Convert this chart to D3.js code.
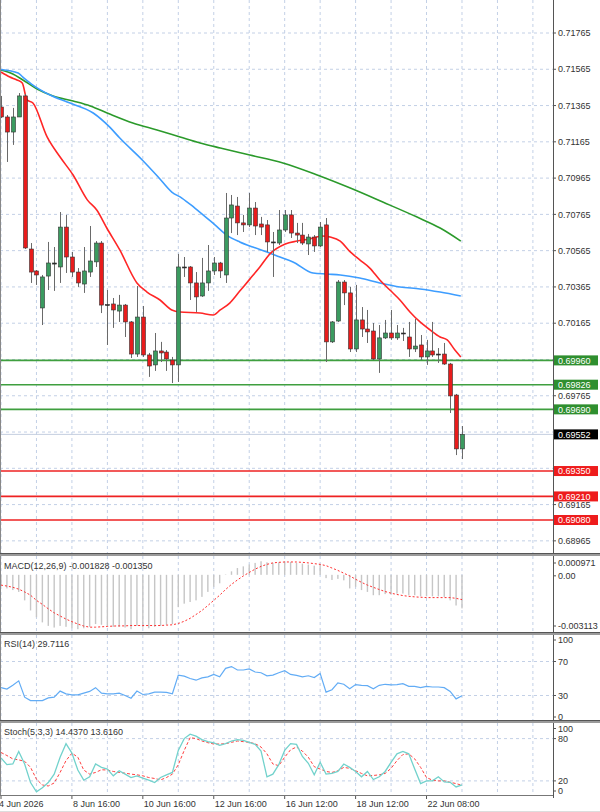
<!DOCTYPE html>
<html>
<head>
<meta charset="utf-8">
<script src="https://cdn.jsdelivr.net/npm/d3@7"></script>
<style>
  body { margin: 0; background: #fff; }
  svg { display: block; font-family: "Liberation Sans", Arial, sans-serif; }
</style>
</head>
<body>
<svg id="chart" width="600" height="812"></svg>
<script>
// ---- candles (4H)
var opens = [0.71357,0.71302,0.71219,0.71302,0.71418,0.70574,0.70453,0.70249,0.70425,0.70491,
  0.70475,0.70695,0.70530,0.70447,0.70381,0.70447,0.70503,0.70607,0.70268,0.70271,
  0.70232,0.70265,0.70172,0.69995,0.70199,0.69990,0.69935,0.70012,0.70006,0.69962,
  0.69935,0.70475,0.70475,0.70387,0.70315,0.70387,0.70453,0.70497,0.70431,0.70745,
  0.70811,0.70718,0.70707,0.70800,0.70712,0.70707,0.70613,0.70607,0.70679,0.70762,
  0.70662,0.70651,0.70602,0.70640,0.70591,0.70707,0.70062,0.70177,0.70392,0.70332,
  0.70023,0.70183,0.70133,0.70122,0.69968,0.70084,0.70111,0.70084,0.70111,0.70089,
  0.70023,0.70045,0.69979,0.70012,0.69995,0.69995,0.69940,0.69769,0.69472];
var highs = [0.71418,0.71313,0.71352,0.71434,0.71429,0.70607,0.70458,0.70431,0.70613,0.70585,
  0.70778,0.70762,0.70558,0.70469,0.70585,0.70701,0.70618,0.70618,0.70348,0.70304,
  0.70321,0.70271,0.70177,0.70370,0.70260,0.70001,0.70111,0.70062,0.70017,0.69979,
  0.70547,0.70530,0.70480,0.70447,0.70525,0.70596,0.70530,0.70503,0.70883,0.70872,
  0.70861,0.70762,0.70883,0.70833,0.70751,0.70734,0.70668,0.70789,0.70789,0.70789,
  0.70718,0.70718,0.70657,0.70651,0.70723,0.70745,0.70177,0.70403,0.70403,0.70365,
  0.70376,0.70254,0.70238,0.70166,0.70155,0.70183,0.70238,0.70155,0.70139,0.70172,
  0.70188,0.70100,0.70073,0.70172,0.70028,0.70056,0.69946,0.69775,0.69598];
var lows = [0.71296,0.71054,0.71148,0.71302,0.70574,0.70387,0.70376,0.70155,0.70348,0.70343,
  0.70387,0.70442,0.70420,0.70365,0.70332,0.70420,0.70475,0.70221,0.70045,0.70139,
  0.70172,0.70089,0.69973,0.69979,0.69979,0.69869,0.69902,0.69951,0.69902,0.69835,
  0.69841,0.70420,0.70293,0.70227,0.70310,0.70343,0.70431,0.70414,0.70387,0.70662,
  0.70651,0.70668,0.70695,0.70651,0.70651,0.70558,0.70420,0.70596,0.70668,0.70635,
  0.70607,0.70596,0.70541,0.70558,0.70585,0.69951,0.70056,0.70172,0.70265,0.70006,
  0.70006,0.70089,0.70056,0.69962,0.69891,0.70078,0.70073,0.70073,0.70067,0.69979,
  0.70006,0.69962,0.69935,0.69979,0.69946,0.69935,0.69670,0.69438,0.69416];
var closes = [0.71302,0.71219,0.71302,0.71418,0.70580,0.70447,0.70431,0.70420,0.70497,0.70497,
  0.70695,0.70530,0.70447,0.70387,0.70453,0.70508,0.70607,0.70265,0.70265,0.70238,
  0.70265,0.70172,0.69995,0.70199,0.69990,0.69929,0.70012,0.70001,0.69968,0.69935,
  0.70475,0.70472,0.70387,0.70310,0.70387,0.70453,0.70497,0.70453,0.70745,0.70817,
  0.70718,0.70707,0.70800,0.70701,0.70695,0.70613,0.70610,0.70679,0.70762,0.70662,
  0.70651,0.70607,0.70640,0.70591,0.70695,0.70062,0.70172,0.70392,0.70332,0.70023,
  0.70183,0.70133,0.70117,0.69968,0.70084,0.70111,0.70084,0.70111,0.70108,0.70023,
  0.70039,0.69979,0.70012,0.69990,0.69993,0.69940,0.69764,0.69472,0.69552];

// ---- moving averages (bar index, price)
var maRedIdx = [0,1.5,2.7,3.6,4.4,5.4,7.8,10,12.2,14.6,16.2,17.9,20.1,23,24.7,26.9,28.9,30.3,33.7,35.9,37.1,38.7,40.4,42.1,43.8,45.5,48.1,50.1,52.3,54.3,55.7,57.4,59.1,60.7,62.4,64.1,65.8,67.5,69.2,70.9,72.6,74.3,75.5,76.8,77.8];
var maRedVal = [0.71550,0.71522,0.71506,0.71489,0.71396,0.71379,0.71192,0.71081,0.70982,0.70845,0.70789,0.70690,0.70569,0.70387,0.70337,0.70293,0.70238,0.70227,0.70221,0.70210,0.70238,0.70276,0.70342,0.70408,0.70475,0.70547,0.70602,0.70618,0.70630,0.70646,0.70640,0.70618,0.70558,0.70514,0.70469,0.70403,0.70348,0.70293,0.70227,0.70172,0.70128,0.70089,0.70073,0.70017,0.69979];
var maBlueIdx = [0,2.9,3.7,5.4,8.3,11.2,15.6,18.4,20.1,23.9,26.6,28.9,30.6,32.8,36.2,38.2,40.4,42.6,45,47.2,49.4,52.8,55.2,57.4,60.7,64.1,67.5,70.9,74.3,77.8];
var maBlueVal = [0.71564,0.71544,0.71522,0.71478,0.71423,0.71384,0.71324,0.71246,0.71186,0.71065,0.70971,0.70888,0.70855,0.70800,0.70707,0.70651,0.70613,0.70585,0.70558,0.70530,0.70503,0.70442,0.70436,0.70431,0.70414,0.70387,0.70365,0.70354,0.70337,0.70315];
var maGreenIdx = [0,2,3.7,6.1,8.8,12.2,15.1,18.4,22.3,26.4,30.3,33.7,37.1,42.1,47.7,53.5,59.1,64.6,70.4,74.3,77.8];
var maGreenVal = [0.71561,0.71539,0.71506,0.71456,0.71418,0.71390,0.71363,0.71318,0.71269,0.71230,0.71192,0.71159,0.71131,0.71092,0.71048,0.70982,0.70910,0.70833,0.70750,0.70690,0.70618];

// ---- horizontal levels
var supportLevels = [0.69960, 0.69826, 0.69690];
var resistLevels = [0.69350, 0.69210, 0.69080];
var lastPrice = 0.69552;
var priceTicks = [0.71965,0.71765,0.71565,0.71365,0.71165,0.70965,0.70765,0.70565,0.70365,0.70165,
  0.69965,0.69765,0.69565,0.69365,0.69165,0.68965,0.68765];

// ---- MACD(12,26,9)
var macdMain = [-0.00056,-0.00074,-0.00083,-0.00093,-0.00139,-0.00194,-0.00231,-0.00259,-0.00278,-0.00287,
  -0.00278,-0.00283,-0.00291,-0.00296,-0.00291,-0.00283,-0.00268,-0.00272,-0.00278,-0.00283,
  -0.00283,-0.00287,-0.00296,-0.00278,-0.00287,-0.00291,-0.00283,-0.00278,-0.00272,-0.00268,
  -0.00176,-0.00157,-0.00148,-0.00139,-0.00120,-0.00093,-0.00065,-0.00046,0.00002,0.00019,
  0.00037,0.00046,0.00056,0.00065,0.00074,0.00068,0.00065,0.00068,0.00074,0.00070,
  0.00065,0.00061,0.00056,0.00050,0.00056,-0.00018,-0.00028,-0.00022,-0.00030,-0.00074,
  -0.00065,-0.00083,-0.00093,-0.00111,-0.00111,-0.00105,-0.00105,-0.00102,-0.00102,-0.00111,
  -0.00111,-0.00117,-0.00117,-0.00117,-0.00117,-0.00120,-0.00139,-0.00167,-0.001828];
var macdSignal = [-0.00056,-0.00061,-0.00068,-0.00078,-0.00093,-0.00111,-0.00139,-0.00161,-0.00185,-0.00207,
  -0.00224,-0.00241,-0.00255,-0.00268,-0.00279,-0.00285,-0.00285,-0.00283,-0.00281,-0.00279,
  -0.00278,-0.00278,-0.00276,-0.00276,-0.00276,-0.00276,-0.00276,-0.00276,-0.00274,-0.00272,
  -0.00265,-0.00253,-0.00237,-0.00216,-0.00194,-0.00167,-0.00139,-0.00111,-0.00080,-0.00052,
  -0.00028,-0.00006,0.00013,0.00031,0.00046,0.00057,0.00065,0.00068,0.00070,0.00070,
  0.00070,0.00068,0.00065,0.00061,0.00057,0.00050,0.00037,0.00024,0.00009,-0.00006,
  -0.00024,-0.00041,-0.00056,-0.00068,-0.00080,-0.00091,-0.00100,-0.00107,-0.00113,-0.00117,
  -0.00120,-0.00122,-0.00124,-0.00124,-0.00124,-0.00124,-0.00124,-0.00128,-0.001350];

// ---- RSI(14)
var rsiVals = [39.2,37.6,42,47.2,28,24,24,24,27.2,28,
  35.2,32,30.8,30.8,32.8,34.8,39.2,32.8,32,32,
  32.8,30,26.8,35.2,31.2,32,34,34,33.6,32,
  54,52.8,50,48,50.8,52,54.8,52,62,64,
  60,60,61.2,57.6,56.8,53.2,54,56.8,59.2,54.8,
  53.6,52,53.2,51.2,56,34,36.8,44.8,43.2,38,
  42.8,42,41.6,38,42,43.2,42.4,42.8,44,40.8,
  40.8,39.2,40.8,40,40,39.2,34.8,26,29.71];

// ---- Stochastic(5,3,3)
var stochK = [52.6,43,44,61.8,44,17.6,4.6,10.4,17.6,29.6,
  53.6,72.8,59.4,35.4,21,25.8,44,39.2,36.8,27.2,
  34.4,29.6,24.8,27.2,23.8,21,17.6,24.8,28.6,32,
  63.2,80,86.2,83.4,78.6,75.7,73.8,70.4,72.8,76.6,
  78.6,77.6,74.7,71.8,62.2,25.8,29.6,43,63.2,72.8,
  71.8,54.6,45,28.6,46.4,29.6,30.6,33.4,44,39.2,
  33.4,25.8,33.4,21.9,25.8,33.4,46.4,58.4,61.8,58.4,
  36.8,16.2,20,20,25.8,18.6,18,11.4,14.44];
var stochD = [60.3,56,51.2,49.8,47.8,39.2,22.4,14.2,12.8,17.1,
  32,48.8,59.4,53.6,35.4,29.6,32,35.8,35.4,33.4,
  32,31,29.6,28.6,27.2,24.8,23.4,21.4,24.8,29.6,
  43,63.2,81.4,80,76.6,74.2,72.3,72.3,72.8,74.7,
  76.6,75.7,74.7,72.8,68,58.4,44,41.6,53.6,64.2,
  68,62.2,53.6,40.2,36.8,33.4,32,34.4,39.2,37.8,
  34.4,30.6,27.2,27.7,28.6,30.6,37.8,48.8,57.4,58.4,
  51.2,39.2,24.8,21,20,20,18,16.2,13.62];

// ---- time axis
var timeLabelIdx = [0, 12, 24, 36, 48, 60, 72];
var timeLabels = ["4 Jun 2026", "8 Jun 16:00", "10 Jun 16:00", "12 Jun 16:00", "16 Jun 12:00", "18 Jun 12:00", "22 Jun 08:00"];

// ================= drawing =================
var svg = d3.select('#chart');
var W = 553;
var gridColor = '#c3d0e6';
var textColor = '#333';

var x = d3.scaleLinear().domain([0, 93.4]).range([1, W]);
var yP = d3.scaleLinear().domain([0.69080, 0.71765]).range([520, 33]);
var yM = d3.scaleLinear().domain([-0.003113, 0.000971]).range([632, 557]);
var yR = d3.scaleLinear().domain([0, 100]).range([721, 636]);
var yS = d3.scaleLinear().domain([0, 100]).range([795, 724.5]);

var panels = [
	{id: 'main', top: 0, bottom: 553},
	{id: 'macd', top: 556, bottom: 632},
	{id: 'rsi', top: 635, bottom: 720},
	{id: 'stoch', top: 723, bottom: 795}
];

var defs = svg.append('defs');
panels.forEach(function(p){
	defs.append('clipPath').attr('id', 'clip-' + p.id)
		.append('rect').attr('x', 0).attr('y', p.top).attr('width', W).attr('height', p.bottom - p.top);
});

// vertical grid in every panel
var gridIdx = d3.range(0, 94, 6);
panels.forEach(function(p){
	svg.append('g').selectAll('line').data(gridIdx).enter().append('line')
		.attr('x1', function(d){ return x(d); }).attr('x2', function(d){ return x(d); })
		.attr('y1', p.top).attr('y2', p.bottom)
		.style('stroke', gridColor).style('stroke-dasharray', '3,3').style('stroke-width', 1);
});

// ---------- main panel ----------
var main = svg.append('g').attr('clip-path', 'url(#clip-main)');

main.selectAll('line.hgrid').data(priceTicks).enter().append('line')
	.attr('class', 'hgrid')
	.attr('x1', 0).attr('x2', W)
	.attr('y1', function(d){ return yP(d); }).attr('y2', function(d){ return yP(d); })
	.style('stroke', gridColor).style('stroke-dasharray', '3,3');

// last price line
main.append('line').attr('x1', 0).attr('x2', W)
	.attr('y1', yP(lastPrice)).attr('y2', yP(lastPrice))
	.style('stroke', '#c4cfe0').style('stroke-width', 1);

// moving averages
function maLine(idx, vals, color){
	var pts = idx.map(function(d, i){ return [d, vals[i]]; });
	main.append('path').datum(pts)
		.attr('d', d3.line().x(function(d){ return x(d[0]); }).y(function(d){ return yP(d[1]); }).curve(d3.curveMonotoneX))
		.style('fill', 'none').style('stroke', color).style('stroke-width', 1.6);
}
maLine(maGreenIdx, maGreenVal, '#2b9a2b');
maLine(maBlueIdx, maBlueVal, '#3d9dff');
maLine(maRedIdx, maRedVal, '#ff2626');

// level lines
main.selectAll('line.sup').data(supportLevels).enter().append('line')
	.attr('x1', 0).attr('x2', W)
	.attr('y1', function(d){ return yP(d); }).attr('y2', function(d){ return yP(d); })
	.style('stroke', '#3f9f3f').style('stroke-width', 1.6);
main.selectAll('line.res').data(resistLevels).enter().append('line')
	.attr('x1', 0).attr('x2', W)
	.attr('y1', function(d){ return yP(d); }).attr('y2', function(d){ return yP(d); })
	.style('stroke', '#ee2222').style('stroke-width', 1.6);

// candles
var candles = opens.map(function(o, i){
	return {i: i, o: o, h: highs[i], l: lows[i], c: closes[i]};
});
var cg = main.selectAll('g.candle').data(candles).enter().append('g');
cg.append('line')
	.attr('x1', function(d){ return Math.round(x(d.i)) + 0.5; })
	.attr('x2', function(d){ return Math.round(x(d.i)) + 0.5; })
	.attr('y1', function(d){ return yP(d.h); })
	.attr('y2', function(d){ return yP(d.l); })
	.style('stroke', '#6a6a6a').style('stroke-width', 1);
cg.append('rect')
	.attr('x', function(d){ return Math.round(x(d.i)) - 1.5; })
	.attr('width', 4)
	.attr('y', function(d){ return yP(Math.max(d.o, d.c)); })
	.attr('height', function(d){ return Math.max(1, Math.abs(yP(d.o) - yP(d.c))); })
	.style('fill', function(d){
		if(Math.abs(yP(d.o) - yP(d.c)) < 1.2) return '#222';
		return d.c >= d.o ? '#3b9b60' : '#e81c1c';
	})
	.style('stroke', '#333')
	.style('stroke-width', 0.6);

// ---------- MACD ----------
var macd = svg.append('g').attr('clip-path', 'url(#clip-macd)');
macd.selectAll('rect').data(macdMain).enter().append('rect')
	.attr('x', function(d, i){ return x(i) - 0.7; })
	.attr('width', 1.4)
	.attr('y', function(d){ return Math.min(yM(d), yM(0)); })
	.attr('height', function(d){ return Math.abs(yM(d) - yM(0)); })
	.style('fill', '#c6c6c6');
macd.append('path').datum(macdSignal)
	.attr('d', d3.line().x(function(d, i){ return x(i); }).y(function(d){ return yM(d); }))
	.style('fill', 'none').style('stroke', '#ff3030').style('stroke-width', 1).style('stroke-dasharray', '2,2');

// ---------- RSI ----------
var rsi = svg.append('g').attr('clip-path', 'url(#clip-rsi)');
rsi.selectAll('line').data([70, 30]).enter().append('line')
	.attr('x1', 0).attr('x2', W)
	.attr('y1', function(d){ return yR(d); }).attr('y2', function(d){ return yR(d); })
	.style('stroke', gridColor).style('stroke-dasharray', '3,3');
rsi.append('path').datum(rsiVals)
	.attr('d', d3.line().x(function(d, i){ return x(i); }).y(function(d){ return yR(d); }))
	.style('fill', 'none').style('stroke', '#62acf5').style('stroke-width', 1.2);

// ---------- Stochastic ----------
var sto = svg.append('g').attr('clip-path', 'url(#clip-stoch)');
sto.selectAll('line').data([80, 20]).enter().append('line')
	.attr('x1', 0).attr('x2', W)
	.attr('y1', function(d){ return yS(d); }).attr('y2', function(d){ return yS(d); })
	.style('stroke', gridColor).style('stroke-dasharray', '3,3');
sto.append('path').datum(stochD)
	.attr('d', d3.line().x(function(d, i){ return x(i); }).y(function(d){ return yS(d); }))
	.style('fill', 'none').style('stroke', '#ff4040').style('stroke-width', 1).style('stroke-dasharray', '3,2');
sto.append('path').datum(stochK)
	.attr('d', d3.line().x(function(d, i){ return x(i); }).y(function(d){ return yS(d); }))
	.style('fill', 'none').style('stroke', '#72d2cc').style('stroke-width', 1.3);

// ---------- frames & separators ----------
svg.append('line').attr('x1', W + 0.5).attr('x2', W + 0.5).attr('y1', 0).attr('y2', 798)
	.style('stroke', '#555').style('stroke-width', 1);
svg.append('line').attr('x1', 0.5).attr('x2', 0.5).attr('y1', 0).attr('y2', 795)
	.style('stroke', '#888').style('stroke-width', 1);
[553, 632, 720].forEach(function(yy){
	svg.append('rect').attr('x', 0).attr('y', yy).attr('width', 600).attr('height', 3).style('fill', '#9a9a9a');
	svg.append('line').attr('x1', 0).attr('x2', 600).attr('y1', yy + 0.5).attr('y2', yy + 0.5).style('stroke', '#555');
});
svg.append('line').attr('x1', 0).attr('x2', W).attr('y1', 795.5).attr('y2', 795.5).style('stroke', '#777');
svg.append('line').attr('x1', 0).attr('x2', 600).attr('y1', 811.5).attr('y2', 811.5).style('stroke', '#ddd');

// ---------- right axis ----------
var axisG = svg.append('g');
var fmt5 = d3.format('.5f');
var boxed = supportLevels.concat(resistLevels, [lastPrice]);
function rightLabel(yy, txt){
	axisG.append('line').attr('x1', W).attr('x2', W + 3).attr('y1', yy).attr('y2', yy).style('stroke', '#555');
	axisG.append('text').attr('x', W + 5).attr('y', yy).attr('dy', '0.35em')
		.style('font-size', '9px').style('fill', textColor).text(txt);
}
priceTicks.forEach(function(d){
	var yy = yP(d);
	// labels sitting right under a level box are hidden in the original
	var covered = boxed.some(function(b){ return Math.abs(yP(b) - yy) < 4; });
	if(yy < 550 && !covered) rightLabel(yy, fmt5(d));
});

function levelBox(v, fill){
	var yy = yP(v);
	axisG.append('rect').attr('x', W + 1).attr('y', yy - 5).attr('width', 44).attr('height', 10).style('fill', fill);
	axisG.append('text').attr('x', W + 5).attr('y', yy).attr('dy', '0.35em')
		.style('font-size', '9px').style('fill', '#fff').text(fmt5(v));
}
supportLevels.forEach(function(v){ levelBox(v, '#2f8f2f'); });
resistLevels.forEach(function(v){ levelBox(v, '#ee1c1c'); });
levelBox(lastPrice, '#000');

// sub-panel scales
rightLabel(yM(0.000971) + 6, '0.000971');
rightLabel(yM(0) + 1, '0.00');
rightLabel(yM(-0.003113) - 6, '-0.003113');
rightLabel(yR(100) + 4, '100');
rightLabel(yR(70), '70');
rightLabel(yR(30), '30');
rightLabel(yR(0) - 4, '0');
rightLabel(yS(100) + 4, '100');
rightLabel(yS(80), '80');
rightLabel(yS(20), '20');
rightLabel(yS(0) - 4, '0');

// indicator titles
svg.append('text').attr('x', 4).attr('y', 569).style('font-size', '9px').style('fill', textColor)
	.text('MACD(12,26,9) -0.001828 -0.001350');
svg.append('text').attr('x', 4).attr('y', 647).style('font-size', '9px').style('fill', textColor)
	.text('RSI(14) 29.7116');
svg.append('text').attr('x', 4).attr('y', 735).style('font-size', '9px').style('fill', textColor)
	.text('Stoch(5,3,3) 14.4370 13.6160');

// ---------- time axis ----------
var tg = svg.append('g');
tg.selectAll('line').data(timeLabelIdx).enter().append('line')
	.attr('x1', function(d){ return x(d); }).attr('x2', function(d){ return x(d); })
	.attr('y1', 796).attr('y2', 799).style('stroke', '#555');
tg.selectAll('text').data(timeLabels).enter().append('text')
	.attr('x', function(d, i){ return i === 0 ? -1 : x(timeLabelIdx[i]) + 1; })
	.attr('y', 807)
	.style('font-size', '9px').style('fill', textColor)
	.text(function(d){ return d; });
</script>
</body>
</html>
